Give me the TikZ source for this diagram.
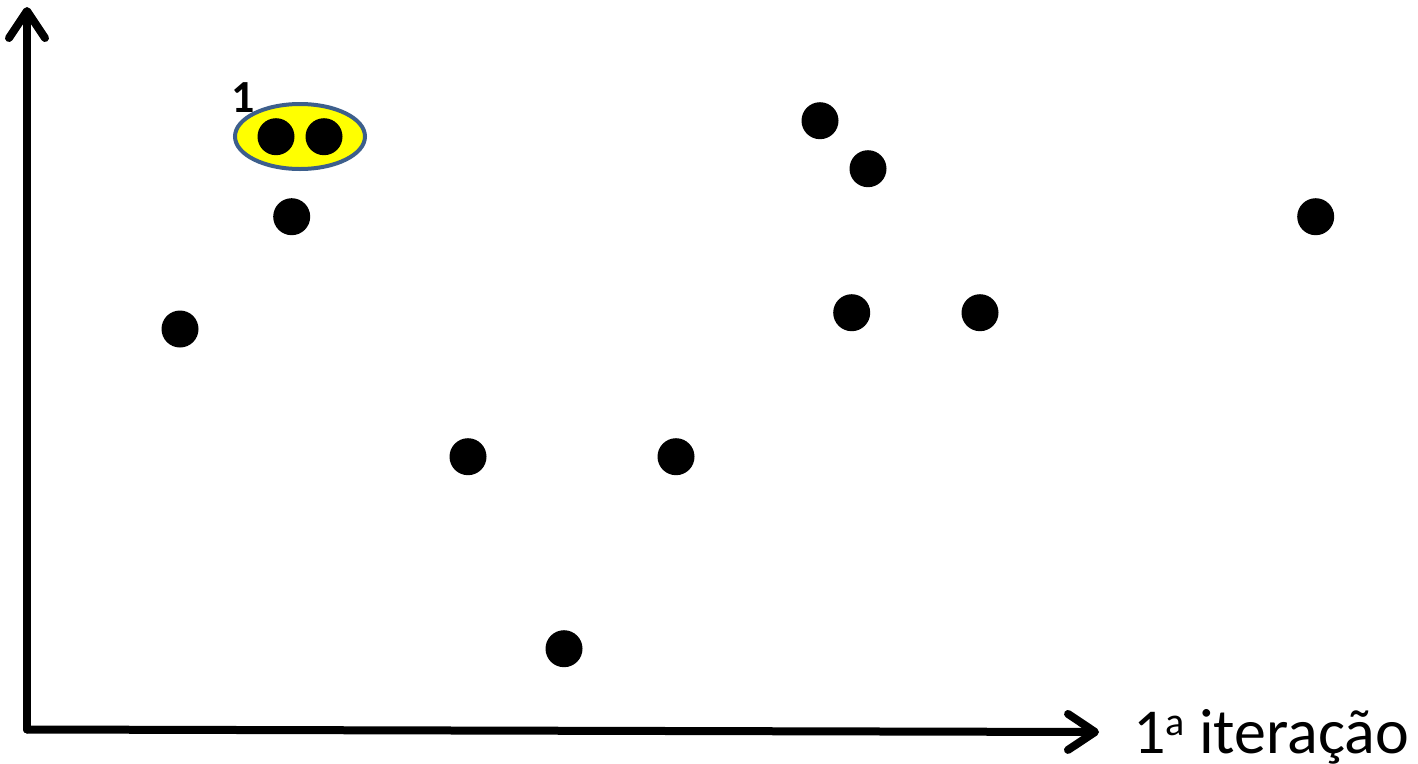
\documentclass[tikz,border=0pt]{standalone}
\usepackage{fontspec}
\setmainfont{Carlito}
\usepackage{tikz}
\usetikzlibrary{arrows.meta,shapes.geometric}
\definecolor{clusterfill}{HTML}{FFFF00}
\definecolor{clusterline}{HTML}{3D5F8C}

\begin{document}
\begin{tikzpicture}[x=1pt,y=-1pt,
      datum/.style={circle,fill=black,inner sep=0pt,minimum size=37pt},
      cluster/.style={ellipse,draw=clusterline,fill=clusterfill,line width=4pt,minimum width=130pt,minimum height=65pt,inner sep=0pt},
      axis/.style={-{Straight Barb[length=27pt,width=36pt,round]},line width=8pt,line cap=round,line join=round}
    ]
      \useasboundingbox (0,0) rectangle (1418,763);
      % cluster of the first iteration
      \node[cluster] (c1) at (300,136.5) {};
      \node[font=\fontsize{46}{50}\selectfont\bfseries,inner sep=0pt,anchor=base] (c1lab) at (243,112) {1};
      \node[datum] (p1) at (276,136.7) {};
      \node[datum] (p2) at (324,136.7) {};
      % remaining points
      \node[datum] (p3) at (291.7,216.7) {};
      \node[datum] (p4) at (180,329) {};
      \node[datum] (p5) at (820,120.7) {};
      \node[datum] (p6) at (868,168.7) {};
      \node[datum] (p7) at (851.7,312.7) {};
      \node[datum] (p8) at (980,312.7) {};
      \node[datum] (p9) at (1315.7,216.7) {};
      \node[datum] (p10) at (468,456.7) {};
      \node[datum] (p11) at (676,456.7) {};
      \node[datum] (p12) at (564,648.7) {};
      % axes
      \coordinate (o) at (27,729.5);
      \coordinate (ytop) at (27,7);
      \coordinate (xend) at (1099,732);
      \draw[axis] (o)--(ytop);
      \draw[axis] (o)--(xend);
      \node[font=\fontsize{64}{70}\selectfont,inner sep=0pt,anchor=base west] (xlab) at (1133,753) {1\raisebox{18pt}{\fontsize{40}{40}\selectfont a} iteração};
    \end{tikzpicture}
\end{document}
